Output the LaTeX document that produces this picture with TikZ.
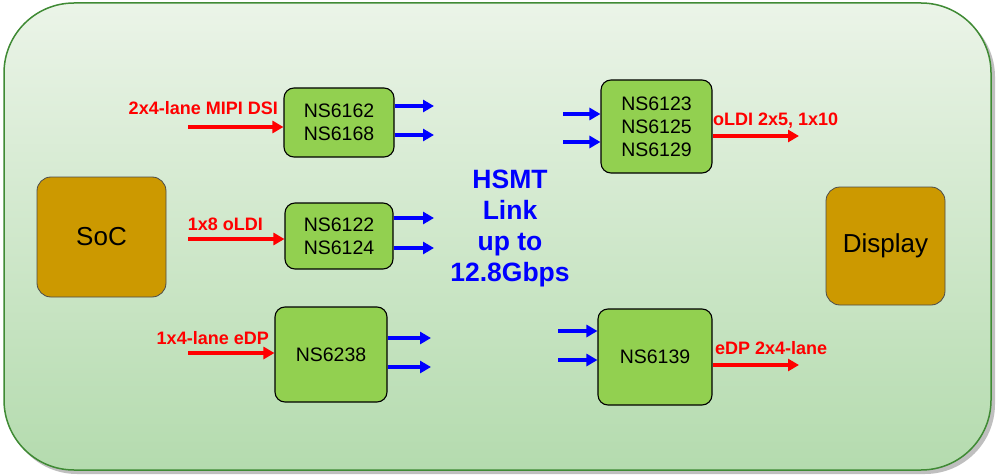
\documentclass[tikz,border=0pt]{standalone}
\usepackage{fontspec}
\setmainfont{Liberation Sans}
\usetikzlibrary{arrows.meta,shadows}
\definecolor{frameborder}{HTML}{3F8A34}
\definecolor{frametop}{HTML}{EBF4E8}
\definecolor{framebot}{HTML}{B4DBAE}
\definecolor{gold}{HTML}{CC9900}
\definecolor{chipgreen}{HTML}{92D050}
\tikzset{
  chip/.style={draw=black, line width=1.1pt, fill=chipgreen, rounded corners=10pt, align=center, font=\fontsize{19.5}{23}\selectfont, inner sep=0pt},
  endbox/.style={draw=black!70, line width=0.8pt, fill=gold, rounded corners=14pt, font=\fontsize{26}{30}\selectfont},
  redarrow/.style={draw=red, line width=4.5pt, -{Triangle[length=11pt,width=12pt]}},
  bluearrow/.style={draw=blue, line width=4.5pt, -{Triangle[length=11pt,width=12pt]}},
  redlabel/.style={text=red, font=\bfseries\fontsize{18}{20}\selectfont, inner sep=0pt},
}
\begin{document}
\begin{tikzpicture}[x=1pt,y=-1pt]
\useasboundingbox (0,0) rectangle (998,476);
% frame
\fill[black!25, rounded corners=70pt] (7,7) rectangle (995,474);
\shade[top color=frametop, bottom color=framebot, draw=frameborder, line width=1.5pt, rounded corners=70pt] (4,3) rectangle (991,470);
% end boxes
\node[endbox, minimum width=129pt, minimum height=120pt] (soc) at (101.5,237) {SoC};
\node[endbox, minimum width=119pt, minimum height=118pt] (disp) at (885.5,246) {Display};
% chips
\node[chip, minimum width=110pt, minimum height=69pt] (c1) at (339,122.5) {NS6162\\NS6168};
\node[chip, minimum width=108pt, minimum height=66pt] (c2) at (339,236) {NS6122\\NS6124};
\node[chip, minimum width=112pt, minimum height=95pt] (c3) at (331,354.5) {NS6238};
\node[chip, minimum width=111pt, minimum height=93pt] (c4) at (656.5,126.5) {NS6123\\NS6125\\NS6129};
\node[chip, minimum width=114pt, minimum height=96pt] (c5) at (655,357) {NS6139};
% center text
\node[text=blue, font=\bfseries\fontsize{26.5}{31}\selectfont, align=center] (hsmt) at (510,228) {HSMT\\Link\\up to\\12.8Gbps};
% input red arrows
\coordinate (i1) at (188,127);
\coordinate (i2) at (188,239);
\coordinate (i3) at (188,353);
\draw[redarrow] (i1) -- (c1.west |- i1);
\draw[redarrow] (i2) -- (c2.west |- i2);
\draw[redarrow] (i3) -- (c3.west |- i3);
\node[redlabel, anchor=base east] (l1) at (278,115) {2x4-lane MIPI DSI};
\node[redlabel, anchor=base east] (l2) at (263,230) {1x8 oLDI};
\node[redlabel, anchor=base east] (l3) at (269,344) {1x4-lane eDP};
% output red arrows
\coordinate (o1) at (799,136);
\coordinate (o2) at (799,365);
\draw[redarrow] (c4.east |- o1) -- (o1);
\draw[redarrow] (c5.east |- o2) -- (o2);
\node[redlabel, anchor=base west] (l4) at (713,125) {oLDI 2x5, 1x10};
\node[redlabel, anchor=base west] (l5) at (715,354) {eDP 2x4-lane};
% blue arrows out
\coordinate (b1) at (434,106);
\coordinate (b2) at (434,135);
\coordinate (b3) at (434,218);
\coordinate (b4) at (434,248);
\coordinate (b5) at (431,338);
\coordinate (b6) at (431,367);
\draw[bluearrow] (c1.east |- b1) -- (b1);
\draw[bluearrow] (c1.east |- b2) -- (b2);
\draw[bluearrow] (c2.east |- b3) -- (b3);
\draw[bluearrow] (c2.east |- b4) -- (b4);
\draw[bluearrow] (c3.east |- b5) -- (b5);
\draw[bluearrow] (c3.east |- b6) -- (b6);
% blue arrows in
\coordinate (d1) at (563,114);
\coordinate (d2) at (563,142);
\coordinate (d3) at (558,331);
\coordinate (d4) at (558,360);
\draw[bluearrow] (d1) -- (c4.west |- d1);
\draw[bluearrow] (d2) -- (c4.west |- d2);
\draw[bluearrow] (d3) -- (c5.west |- d3);
\draw[bluearrow] (d4) -- (c5.west |- d4);
\end{tikzpicture}
\end{document}
